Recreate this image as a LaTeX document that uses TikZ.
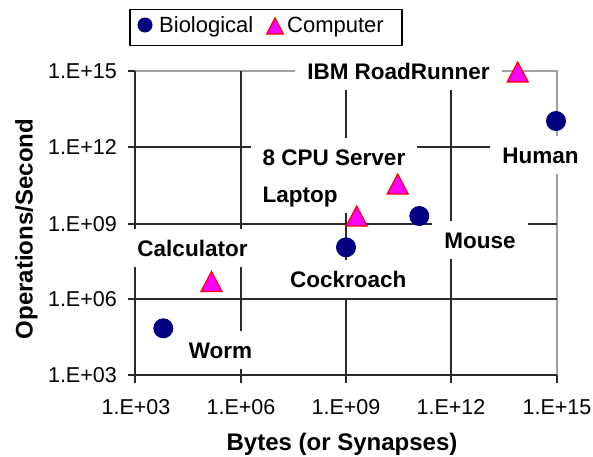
\documentclass[tikz,border=0pt]{standalone}
\usepackage{fontspec}
\setmainfont{Liberation Sans}
\usetikzlibrary{shapes.geometric}
\definecolor{navy}{HTML}{000080}
\definecolor{trifill}{HTML}{FF00FF}
\definecolor{triline}{HTML}{FF0000}
\definecolor{gridc}{HTML}{2A2A2A}
\definecolor{borderc}{HTML}{A0A0A0}
\begin{document}
\begin{tikzpicture}[x=1pt,y=-1pt,
  gridline/.style={draw=gridc, line width=1.5pt},
  borderline/.style={draw=borderc, line width=1.5pt},
  lbl/.style={fill=white, font=\fontsize{22.5}{26}\selectfont\bfseries, text height=16.1pt, text depth=0pt, inner xsep=12pt, inner ysep=10.5pt},
  bio/.style={circle, fill=navy, minimum size=20pt, inner sep=0pt},
  compshape/.style={fill=trifill, draw=triline, line width=1.2pt, line join=miter},
  tri/.pic={\path[compshape] (0,-10) -- (10.5,10) -- (-10.5,10) -- cycle;},
  ticklbl/.style={font=\fontsize{21.5}{25}\selectfont, text height=15.4pt, text depth=0pt, inner sep=0pt},
  legtxt/.style={font=\fontsize{22}{26}\selectfont, text height=15.75pt, text depth=0pt, inner sep=0pt},
  axtitle/.style={font=\fontsize{24}{28}\selectfont\bfseries, text height=17.2pt, text depth=0pt, inner sep=0pt}
]
\useasboundingbox (0,0) rectangle (593,456);
% plot frame (grey)
\draw[borderline] (135,71) -- (557,71) -- (557,375);
% gridlines
\foreach \gx in {241,346,451} \draw[gridline] (\gx,71) -- (\gx,383);
\draw[gridline] (557,375) -- (557,383);
\foreach \gy in {147,224,299} \draw[gridline] (128,\gy) -- (557,\gy);
\draw[gridline] (128,71) -- (135,71);
% axes
\draw[gridline] (135,71) -- (135,383);
\draw[gridline] (128,375) -- (557,375);
% data labels (white boxes)
\node[lbl] (lIBM) at (398.5,71) {IBM RoadRunner};
\node[lbl] (lHuman) at (540.5,155) {Human};
\node[lbl] (lServer) at (334,157) {8 CPU Server};
\node[lbl] (lLaptop) at (300,194.5) {Laptop};
\node[lbl] (lCalc) at (192.5,248) {Calculator};
\node[lbl] (lCock) at (348.3,279) {Cockroach};
\node[lbl] (lMouse) at (480,240) {Mouse};
\node[lbl] (lWorm) at (220.5,350) {Worm};
% markers
\pic (mIBM) at (517.7,72) {tri};
\pic (mServer) at (397.7,184) {tri};
\pic (mLaptop) at (356.7,216) {tri};
\pic (mCalc) at (211.5,281.5) {tri};
\node[bio] (mHuman) at (556,121) {};
\node[bio] (mMouse) at (419.3,216) {};
\node[bio] (mCock) at (346,247.3) {};
\node[bio] (mWorm) at (163.3,328.3) {};
% y tick labels
\node[ticklbl, anchor=east] (y15) at (117,71) {1.E+15};
\node[ticklbl, anchor=east] (y12) at (117,147) {1.E+12};
\node[ticklbl, anchor=east] (y09) at (117,224) {1.E+09};
\node[ticklbl, anchor=east] (y06) at (117,299) {1.E+06};
\node[ticklbl, anchor=east] (y03) at (117,375) {1.E+03};
% x tick labels
\node[ticklbl] (x03) at (136,407) {1.E+03};
\node[ticklbl] (x06) at (241,407) {1.E+06};
\node[ticklbl] (x09) at (346,407) {1.E+09};
\node[ticklbl] (x12) at (451,407) {1.E+12};
\node[ticklbl] (x15) at (557,407) {1.E+15};
% axis titles
\node[axtitle] (xtitle) at (342,442) {Bytes (or Synapses)};
\node[axtitle, rotate=90] (ytitle) at (24,229) {Operations/Second};
% legend
\node[draw=black, line width=1.5pt, minimum width=272pt, minimum height=36pt, inner sep=0pt] (legend) at (266,27.5) {};
\node[circle, fill=navy, minimum size=15pt, inner sep=0pt] (legBio) at (145,25) {};
\node[legtxt, anchor=west] (legBioT) at (159,25) {Biological};
\pic[scale=0.8] (legComp) at (275,26) {tri};
\node[legtxt, anchor=west] (legCompT) at (287,25) {Computer};
\end{tikzpicture}
\end{document}
